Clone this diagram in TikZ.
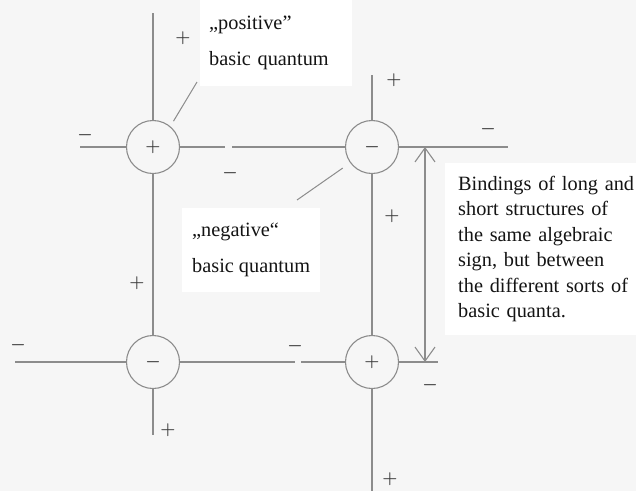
\documentclass[tikz,border=0pt]{standalone}
\usepackage[no-math]{fontspec}
\setmainfont{Liberation Serif}
\usepackage{xcolor}
\usepackage{tikz}
\usetikzlibrary{arrows.meta}
\definecolor{linegray}{HTML}{8c8c8c}
\definecolor{signgray}{HTML}{3a3a3a}
\definecolor{paper}{HTML}{f6f6f6}
\definecolor{inkblack}{HTML}{141414}

\begin{document}
\begin{tikzpicture}[
  x=1pt, y=-1pt,
  quantum/.style={circle, draw=linegray, line width=1.1pt, fill=paper, minimum size=53pt, inner sep=0pt, font=\fontsize{19}{19}\selectfont\boldmath, text=signgray},
  sign/.style={inner sep=0pt, font=\fontsize{19}{19}\selectfont\boldmath, text=signgray},
  bond/.style={linegray, line width=1.2pt},
  lead/.style={linegray, line width=1pt},
  lbl/.style={fill=white, text=inkblack, font=\fontsize{20.3}{35.5}\selectfont, align=left, anchor=north west},
  arr/.style={{Straight Barb[length=14pt,width=20pt]}-{Straight Barb[length=14pt,width=20pt]}, linegray, line width=1.1pt}
]
\fill[paper] (0,0) rectangle (636,491);
\useasboundingbox (0,0) rectangle (636,491);

% basic quanta
\node[quantum] (q1) at (153,147) {$+$};
\node[quantum] (q2) at (372,147) {$-$};
\node[quantum] (q3) at (153,362) {$-$};
\node[quantum] (q4) at (372,362) {$+$};

% free ends of the structures
\coordinate (t1w) at (80,147);
\coordinate (t1n) at (153,13);
\coordinate (gapa) at (225,147);
\coordinate (gapb) at (232,147);
\coordinate (t2n) at (372,75);
\coordinate (t2e) at (508,147);
\coordinate (t3w) at (15,362);
\coordinate (t3s) at (153,435);
\coordinate (gapc) at (295,362);
\coordinate (gapd) at (301,362);
\coordinate (t4e) at (438,362);
\coordinate (t4s) at (372,491);

\draw[bond] (t1w) -- (q1.west);
\draw[bond] (t1n) -- (q1.north);
\draw[bond] (q1.east) -- (gapa);
\draw[bond] (gapb) -- (q2.west);
\draw[bond] (t2n) -- (q2.north);
\draw[bond] (q2.east) -- (t2e);
\draw[bond] (q1.south) -- (q3.north);
\draw[bond] (q2.south) -- (q4.north);
\draw[bond] (t3w) -- (q3.west);
\draw[bond] (q3.east) -- (gapc);
\draw[bond] (gapd) -- (q4.west);
\draw[bond] (q3.south) -- (t3s);
\draw[bond] (q4.east) -- (t4e);
\draw[bond] (q4.south) -- (t4s);

% signs of the structures
\foreach \x/\y/\t [count=\i] in {183/38/+, 85/135/-, 230/173/-, 394/80/+, 488/129/-, 392/216/+,
    137/283/+, 18/345/-, 168/430/+, 295/346/-, 430/385/-, 390/479/+}
  \node[sign] (s\i) at (\x,\y) {$\t$};

% binding arrow
\coordinate (atop) at (425,147);
\coordinate (abot) at (425,362);
\draw[arr] (atop) -- (abot);

% labels
\node[lbl, text width=134pt, inner xsep=9pt, inner ysep=16pt] (pos) at (200,0) {„positive”\\basic quantum};
\node[lbl, inner xsep=10pt, inner ysep=15pt] (neg) at (182,208) {„negative“\\basic quantum};
\node[lbl, font=\fontsize{20.3}{25.4}\selectfont, text width=180pt, inner xsep=13pt, inner ysep=13pt] (bind) at (445,163)
  {Bindings of long and\\short structures of\\the same algebraic\\sign, but between\\the different sorts of\\basic quanta.};

\coordinate (posend) at (197,82);
\coordinate (negend) at (297,200);
\draw[lead, shorten <=6pt] (q1.50) -- (posend);
\draw[lead, shorten <=9pt] (q2.216) -- (negend);
\end{tikzpicture}
\end{document}
